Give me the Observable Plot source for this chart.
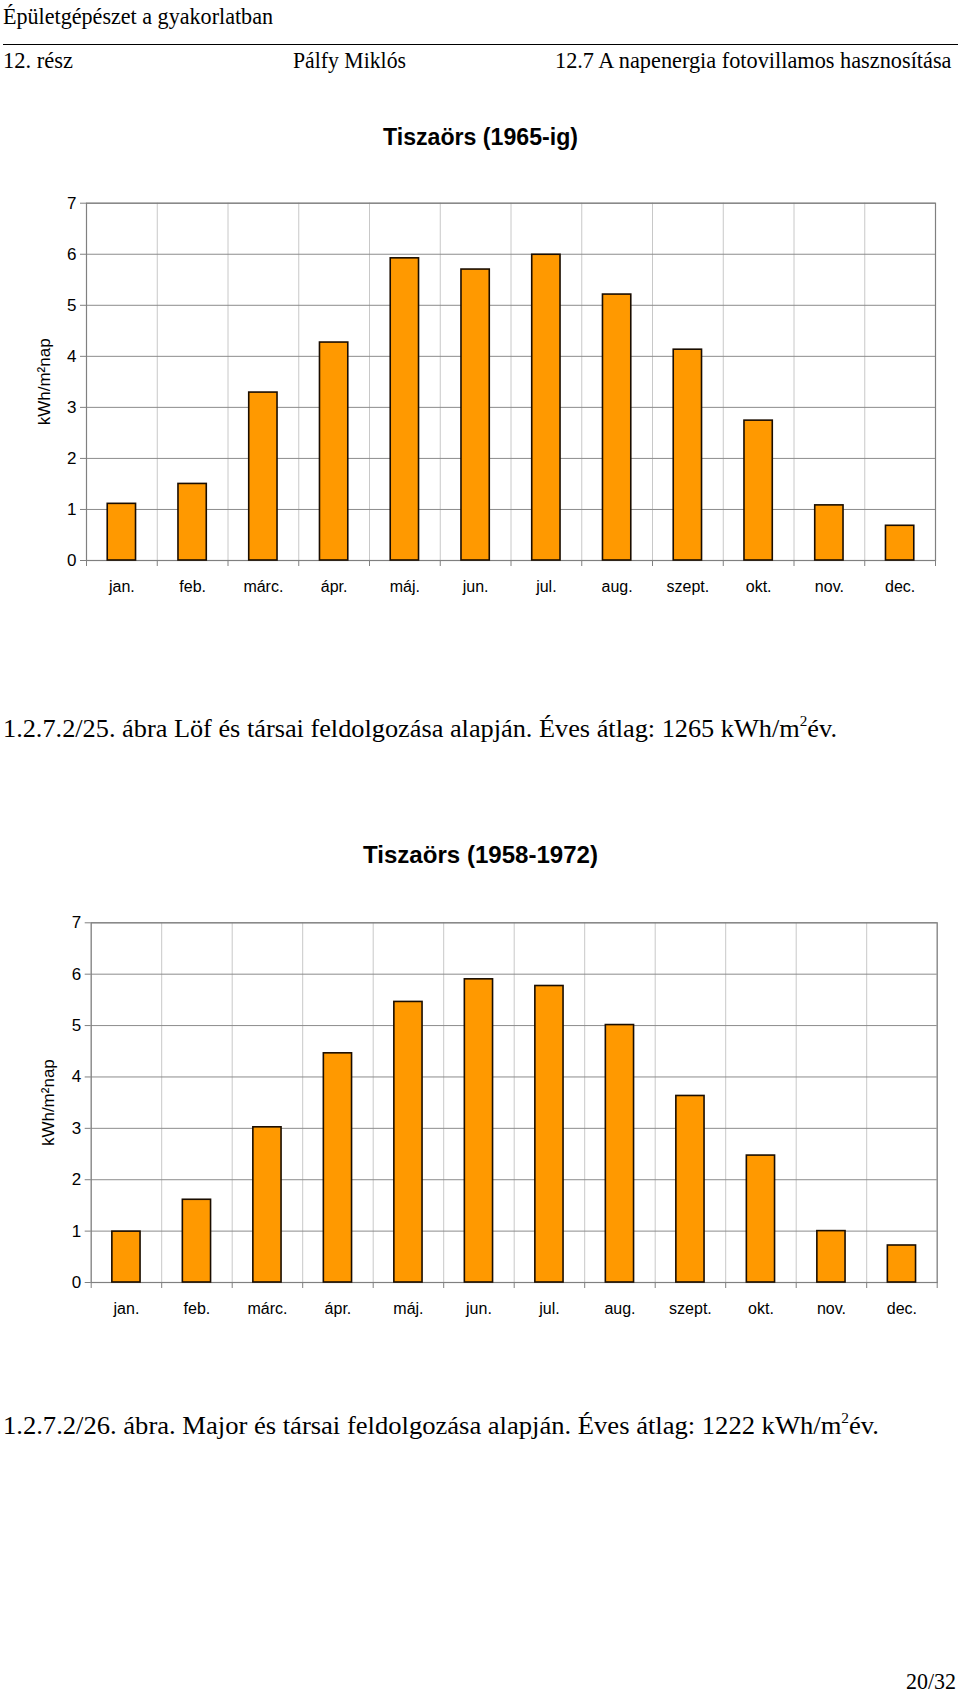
<!DOCTYPE html>
<html><head><meta charset="utf-8">
<script src="https://cdn.jsdelivr.net/npm/d3@7"></script>
<script src="https://cdn.jsdelivr.net/npm/@observablehq/plot@0.6"></script>
<style>
body{margin:0;background:#fff;}
#page{position:relative;width:960px;height:1696px;overflow:hidden;background:#fff;}
#page > svg.bg{position:absolute;left:0;top:0;}
.chart{position:absolute;left:0;}
.chart svg{display:block;font-family:"Liberation Sans",Arial,sans-serif;}
</style></head><body>
<div id="page">
<svg class="bg" width="960" height="1696" font-family="Liberation Serif, Times New Roman, serif" fill="#000">
  <text x="3" y="24" font-size="23" textLength="270" lengthAdjust="spacingAndGlyphs">Épületgépészet a gyakorlatban</text>
  <line x1="3" x2="958" y1="44.5" y2="44.5" stroke="#000" stroke-width="1"/>
  <text x="3" y="68" font-size="23" textLength="70" lengthAdjust="spacingAndGlyphs">12. rész</text>
  <text x="293" y="68" font-size="23" textLength="113" lengthAdjust="spacingAndGlyphs">Pálfy Miklós</text>
  <text x="555" y="68" font-size="22.3">12.7 A napenergia fotovillamos hasznosítása</text>
  <text x="480.5" y="145" font-family="Liberation Sans, Arial, sans-serif" font-weight="bold" font-size="23" text-anchor="middle" textLength="195" lengthAdjust="spacingAndGlyphs">Tiszaörs (1965-ig)</text>
  <text x="3" y="737" font-size="26" textLength="834" lengthAdjust="spacingAndGlyphs">1.2.7.2/25. ábra Löf és társai feldolgozása alapján. Éves átlag: 1265 kWh/m<tspan dy="-11" font-size="15">2</tspan><tspan dy="11">év.</tspan></text>
  <text x="480.5" y="863" font-family="Liberation Sans, Arial, sans-serif" font-weight="bold" font-size="24" text-anchor="middle" textLength="235" lengthAdjust="spacingAndGlyphs">Tiszaörs (1958-1972)</text>
  <text x="3" y="1434" font-size="26" textLength="876" lengthAdjust="spacingAndGlyphs">1.2.7.2/26. ábra. Major és társai feldolgozása alapján. Éves átlag: 1222 kWh/m<tspan dy="-11" font-size="15">2</tspan><tspan dy="11">év.</tspan></text>
  <text x="906" y="1689" font-size="23" textLength="50" lengthAdjust="spacingAndGlyphs">20/32</text>
</svg>
<div class="chart" id="c1" style="top:180px"></div>
<div class="chart" id="c2" style="top:900px"></div>
</div>
<script>
const months = ["jan.","feb.","márc.","ápr.","máj.","jun.","jul.","aug.","szept.","okt.","nov.","dec."];
const values1965 = [1.11,1.50,3.29,4.27,5.92,5.70,5.99,5.21,4.13,2.74,1.08,0.68];
const values1958_1972 = [0.99,1.61,3.02,4.46,5.46,5.90,5.77,5.01,3.63,2.47,1.00,0.72];
const yTicks = [0,1,2,3,4,5,6,7];
const yLabel = "kWh/m²nap";

function chart(values, m) {
  const data = months.map((month, i) => ({i, month, v: values[i]}));
  const boundaries = d3.range(months.length + 1);
  const centers = months.map((_, i) => i + 0.5);
  return Plot.plot({
    width: 960,
    height: 440,
    marginTop: m.top,
    marginBottom: m.bottom,
    marginLeft: m.left,
    marginRight: m.right,
    style: {background: "transparent", color: "#000"},
    x: {domain: [0, months.length]},
    y: {domain: [0, 7]},
    marks: [
      Plot.ruleX(boundaries, {stroke: "#c8c8c8", strokeWidth: 1}),
      Plot.ruleY(yTicks, {stroke: "#8c8c8c", strokeWidth: 1}),
      Plot.frame({stroke: "#808080", strokeWidth: 1.2}),
      Plot.rectY(data, {x1: d => d.i + 0.3, x2: d => d.i + 0.7, y: "v", fill: "#ff9900", stroke: "#1a0d00", strokeWidth: 1.6}),
      Plot.axisY(yTicks, {tickSize: 6, tickPadding: 4, stroke: "#808080", fill: "#000", fontSize: 17,
        tickFormat: d => String(d),
        label: yLabel, labelAnchor: "center", labelOffset: 49, labelArrow: "none"}),
      Plot.axisX(boundaries, {tickSize: 6, stroke: "#808080", tickFormat: () => "", label: null}),
      Plot.axisX(centers, {tickSize: 0, tickPadding: 20, fill: "#000", fontSize: 16,
        tickFormat: d => months[Math.floor(d)], label: null})
    ]
  });
}

document.getElementById("c1").appendChild(chart(values1965, {top: 22.7, bottom: 60, left: 86, right: 25}));
document.getElementById("c2").appendChild(chart(values1958_1972, {top: 22.3, bottom: 58, left: 90.7, right: 23.3}));
</script>
</body></html>
